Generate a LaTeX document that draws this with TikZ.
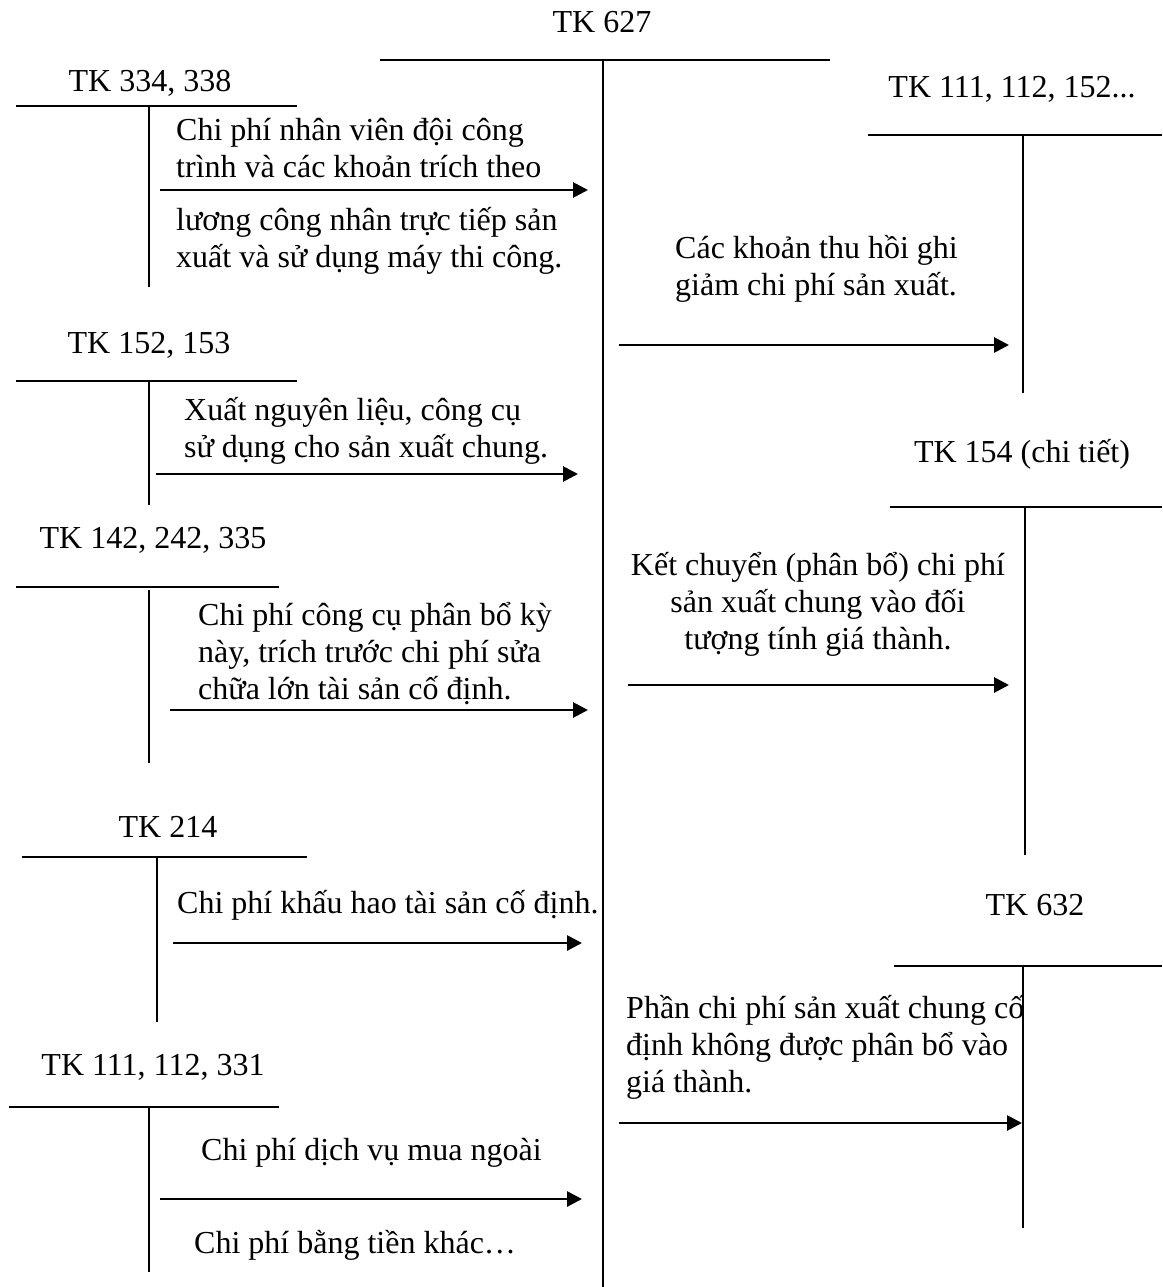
\documentclass[tikz,border=0pt]{standalone}
\usepackage{fontspec}
\setmainfont{Liberation Serif}
\usetikzlibrary{arrows.meta}
\begin{document}
\begin{tikzpicture}[x=1pt,y=-1pt,
  acct/.style={line width=2pt},
  flow/.style={line width=2.8pt,-{Triangle[length=15pt,width=15pt]}},
  title/.style={anchor=base,inner sep=0pt,font=\fontsize{32}{37}\selectfont},
  % multi-line notes are placed by the baseline of their last line
  note/.style={anchor=base west,inner sep=0pt,align=left,font=\fontsize{32}{37}\selectfont},
  cnote/.style={anchor=base,inner sep=0pt,align=center,font=\fontsize{32}{37}\selectfont}]
\useasboundingbox (0,0) rectangle (1162,1287);

% ---- central account TK 627 ----
\node[title] (t627) at (602,33) {TK 627};
\coordinate (h627a) at (380,60);
\coordinate (h627b) at (830,60);
\coordinate (v627a) at (603,60);
\coordinate (v627b) at (603,1287);
\draw[acct] (h627a) -- (h627b);
\draw[acct] (v627a) -- (v627b);

% ---- TK 334, 338 ----
\node[title] (t334) at (150,92) {TK 334, 338};
\coordinate (h334a) at (16,106);
\coordinate (h334b) at (297,106);
\coordinate (v334a) at (149,106);
\coordinate (v334b) at (149,287);
\draw[acct] (h334a) -- (h334b);
\draw[acct] (v334a) -- (v334b);
\node[note] (n334a) at (176,177) {Chi phí nhân viên đội công\\trình và các khoản trích theo};
\node[note] (n334b) at (176,267) {lương công nhân trực tiếp sản\\xuất và sử dụng máy thi công.};
\coordinate (a334s) at (160,190);
\coordinate (a334e) at (588,190);
\draw[flow] (a334s) -- (a334e);

% ---- TK 152, 153 ----
\node[title] (t152) at (149,353) {TK 152, 153};
\coordinate (h152a) at (16,381);
\coordinate (h152b) at (297,381);
\coordinate (v152a) at (149,381);
\coordinate (v152b) at (149,505);
\draw[acct] (h152a) -- (h152b);
\draw[acct] (v152a) -- (v152b);
\node[note] (n152) at (184,457) {Xuất nguyên liệu, công cụ\\sử dụng cho sản xuất chung.};
\coordinate (a152s) at (156,474);
\coordinate (a152e) at (578,474);
\draw[flow] (a152s) -- (a152e);

% ---- TK 142, 242, 335 ----
\node[title] (t142) at (153,548) {TK 142, 242, 335};
\coordinate (h142a) at (16,587);
\coordinate (h142b) at (279,587);
\coordinate (v142a) at (149,590);
\coordinate (v142b) at (149,763);
\draw[acct] (h142a) -- (h142b);
\draw[acct] (v142a) -- (v142b);
\node[note] (n142) at (198,699) {Chi phí công cụ phân bổ kỳ\\này, trích trước chi phí sửa\\chữa lớn tài sản cố định.};
\coordinate (a142s) at (170,710);
\coordinate (a142e) at (588,710);
\draw[flow] (a142s) -- (a142e);

% ---- TK 214 ----
\node[title] (t214) at (168,837) {TK 214};
\coordinate (h214a) at (22,857);
\coordinate (h214b) at (307,857);
\coordinate (v214a) at (157,857);
\coordinate (v214b) at (157,1022);
\draw[acct] (h214a) -- (h214b);
\draw[acct] (v214a) -- (v214b);
\node[note] (n214) at (177,913) {Chi phí khấu hao tài sản cố định.};
\coordinate (a214s) at (173,943);
\coordinate (a214e) at (582,943);
\draw[flow] (a214s) -- (a214e);

% ---- TK 111, 112, 331 ----
\node[title] (t331) at (153,1075) {TK 111, 112, 331};
\coordinate (h331a) at (9,1107);
\coordinate (h331b) at (279,1107);
\coordinate (v331a) at (149,1107);
\coordinate (v331b) at (149,1272);
\draw[acct] (h331a) -- (h331b);
\draw[acct] (v331a) -- (v331b);
\node[note] (n331a) at (201,1160) {Chi phí dịch vụ mua ngoài};
\node[note] (n331b) at (194,1253) {Chi phí bằng tiền khác…};
\coordinate (a331s) at (160,1199);
\coordinate (a331e) at (582,1199);
\draw[flow] (a331s) -- (a331e);

% ---- TK 111, 112, 152... ----
\node[title] (t111) at (1012,98) {TK 111, 112, 152...};
\coordinate (h111a) at (868,135);
\coordinate (h111b) at (1162,135);
\coordinate (v111a) at (1023,135);
\coordinate (v111b) at (1023,393);
\draw[acct] (h111a) -- (h111b);
\draw[acct] (v111a) -- (v111b);
\node[note] (n111) at (675,295) {Các khoản thu hồi ghi\\giảm chi phí sản xuất.};
\coordinate (a111s) at (619,345);
\coordinate (a111e) at (1009,345);
\draw[flow] (a111s) -- (a111e);

% ---- TK 154 (chi tiết) ----
\node[title] (t154) at (1022,462) {TK 154 (chi tiết)};
\coordinate (h154a) at (890,507);
\coordinate (h154b) at (1162,507);
\coordinate (v154a) at (1025,507);
\coordinate (v154b) at (1025,855);
\draw[acct] (h154a) -- (h154b);
\draw[acct] (v154a) -- (v154b);
\node[cnote] (n154) at (818,649) {Kết chuyển (phân bổ) chi phí\\sản xuất chung vào đối\\tượng tính giá thành.};
\coordinate (a154s) at (628,685);
\coordinate (a154e) at (1009,685);
\draw[flow] (a154s) -- (a154e);

% ---- TK 632 ----
\node[title] (t632) at (1035,915) {TK 632};
\coordinate (h632a) at (894,966);
\coordinate (h632b) at (1162,966);
\coordinate (v632a) at (1023,966);
\coordinate (v632b) at (1023,1228);
\draw[acct] (h632a) -- (h632b);
\draw[acct] (v632a) -- (v632b);
\node[note] (n632) at (626,1092) {Phần chi phí sản xuất chung cố\\định không được phân bổ vào\\giá thành.};
\coordinate (a632s) at (619,1123);
\coordinate (a632e) at (1022,1123);
\draw[flow] (a632s) -- (a632e);
\end{tikzpicture}
\end{document}
